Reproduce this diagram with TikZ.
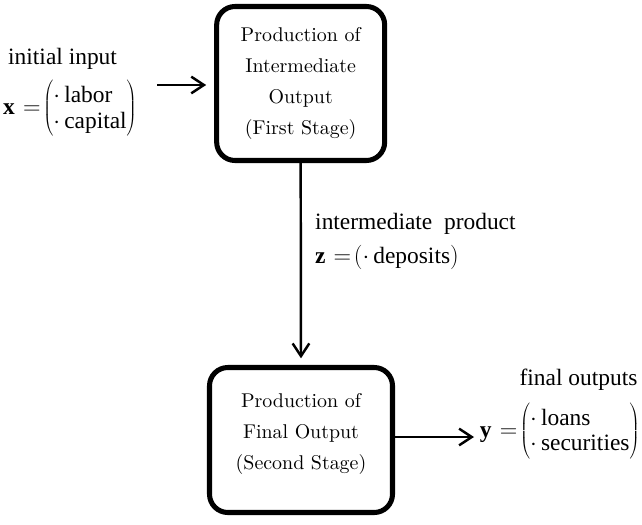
\documentclass[tikz,border=0pt]{standalone}
\usepackage{fontspec}
\newfontfamily\labelfont{Liberation Serif}
\newfontfamily\stagefont{lmroman10-regular.otf}
\usetikzlibrary{positioning,arrows.meta}

\newcommand\vecrows[2]{\renewcommand\arraystretch{0.9}%
    \left(\begin{array}{@{}l@{}}
        \mathord{\cdot}\,\mbox{#1}\rule{0pt}{21pt}\\
        \mathord{\cdot}\,\mbox{#2}\rule[-9pt]{0pt}{9pt}
    \end{array}\right)}
\newcommand\eqsign{\mkern6mu{=}\mkern-1mu}

\tikzset{
    stagebox/.style={draw, line width=4.3pt, rounded corners=0.55cm,
        align=center, inner sep=0pt,
        font=\stagefont\fontsize{17}{26.5}\selectfont},
    lbl/.style={inner sep=0pt, font=\labelfont\fontsize{20}{24}\selectfont},
    flow/.style={line width=2.1pt,
        -{Straight Barb[length=3.8mm,width=5mm,line width=2.1pt]}}
}

\begin{document}
\begin{tikzpicture}

\useasboundingbox (0,0) rectangle (19.26,15.72);

%% Stupne vyroby
\node[stagebox, minimum width=5.04cm, minimum height=4.62cm] (first)
    at (9.02,13.215)
    {Production of\\Intermediate\\Output\\(First Stage)};
\node[stagebox, minimum width=5.49cm, minimum height=4.35cm] (second)
    at (9.03,2.52)
    {Production of\\Final Output\\(Second Stage)\\[-12pt]};

%% Vstup
\node[lbl, anchor=west] (inlbl) at (0.24,13.95) {initial input};
\node[lbl, anchor=west] (invec) at (0.09,12.465)
    {$\mbox{\textbf{x}}\eqsign\vecrows{labor}{capital}$};
\coordinate (in) at (4.71,13.17);

%% Medziprodukt
\node[lbl, anchor=west] (midlbl) at (9.45,9.0) {intermediate~~product};
\node[lbl, anchor=west] (midvec) at (9.45,7.995)
    {$\mbox{\textbf{z}}\eqsign
      \left(\mathord{\cdot}\,\mbox{deposits}\rule{0pt}{16pt}\right)$};

%% Vystup
\node[lbl] (outlbl) at (17.355,4.32) {final outputs};
\node[lbl, anchor=east] (outvec) at (19.2,2.79)
    {$\mbox{\textbf{y}}\eqsign\vecrows{loans}{securities}$};
\coordinate (out) at (14.22,2.61);

%% Sipky
\draw[flow, shorten >=0.24cm] (in) -- (in -| first.west);
\draw[flow, shorten >=0.2cm] (first.south) -- (second.north);
\draw[flow] (second.east |- out) -- (out);

\end{tikzpicture}
\end{document}
